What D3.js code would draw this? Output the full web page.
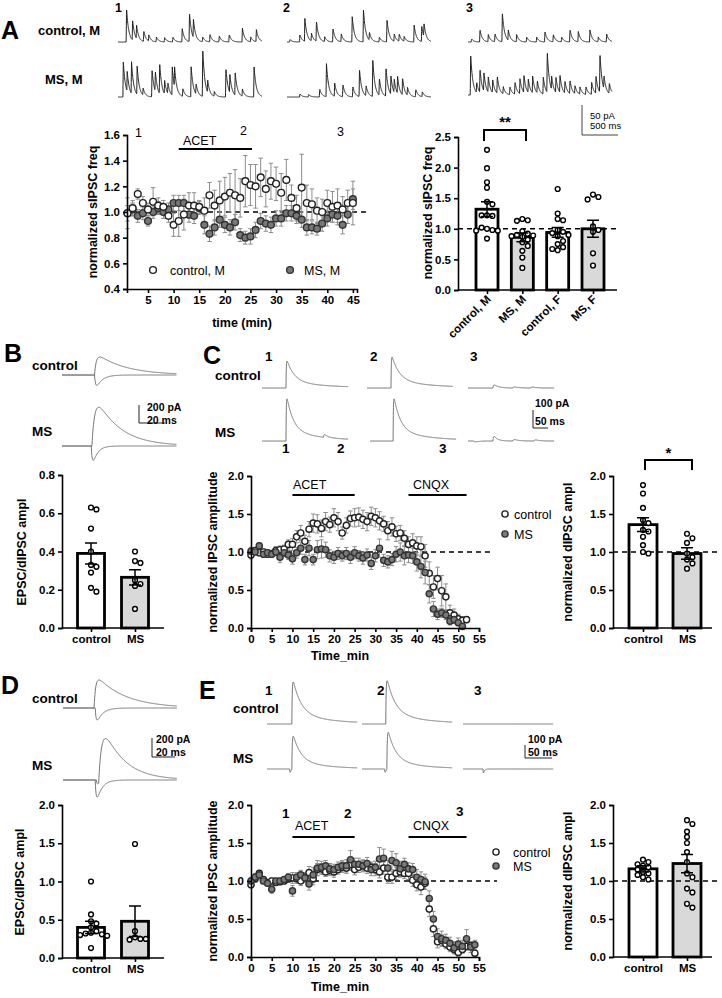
<!DOCTYPE html>
<html>
<head>
<meta charset="utf-8">
<script src="https://cdn.jsdelivr.net/npm/d3@7"></script>
<style>
  body { margin: 0; background: #fff; }
  svg text { font-family: "Liberation Sans", Arial, sans-serif; fill: #000; }
</style>
</head>
<body>
<svg id="fig" width="722" height="998"></svg>
<script>
// ---------------- data ----------------

// A: sIPSC traces, events as [time ms, amplitude pA]
var aCtrl1 = [[119,55],[203,33],[258,22],[359,17],[428,10],[534,8],[648,7],[763,8],[892,22],[993,47],[1048,30],[1177,8],[1278,12],[1407,10],[1545,12],[1728,23],[1844,8],[1922,20]];
var aMs1 = [[74,58],[128,33],[188,53],[266,47],[349,12],[473,45],[519,33],[579,50],[648,22],[694,17],[754,47],[786,33],[901,13],[1016,50],[1085,17],[1177,78],[1246,20],[1338,8],[1499,47],[1554,30],[1628,37],[1728,12],[1890,50]];
var aCtrl2 = [[41,4],[179,12],[248,38],[340,13],[409,33],[524,8],[639,22],[754,13],[906,42],[1062,53],[1145,13],[1283,8],[1389,37],[1490,12],[1559,12],[1628,8],[1766,28],[1872,25],[1903,22]];
var aMs2 = [[180,5],[300,4],[455,13],[548,55],[662,22],[777,20],[915,17],[1007,45],[1099,17],[1191,62],[1283,28],[1375,47],[1444,30],[1490,22],[1536,28],[1605,28],[1674,13],[1789,12],[1880,8]];
var aCtrl3 = [[51,5],[167,20],[282,12],[375,13],[477,48],[560,17],[676,12],[815,8],[954,8],[1069,17],[1185,12],[1301,8],[1417,20],[1532,17],[1694,20],[1810,8],[1926,13]];
var aMs3 = [[37,67],[121,17],[167,38],[222,30],[282,25],[343,22],[407,28],[490,12],[583,13],[653,20],[722,25],[778,28],[838,22],[898,28],[963,20],[1046,28],[1101,67],[1162,22],[1222,25],[1278,28],[1347,20],[1417,22],[1486,13],[1556,12],[1639,13],[1718,20],[1778,28],[1833,63],[1889,22],[1963,17]];

// A: time course, minutes 1..45
var ctrlM_freq = [0.99,1.03,1.14,1.07,1.02,1.08,1.05,1.04,0.97,0.90,
                  0.93,0.98,1.05,1.05,1.04,1.01,1.13,1.05,1.09,1.12,
                  1.15,1.13,1.11,1.24,1.21,1.20,1.27,1.18,1.24,1.22,
                  1.15,1.25,1.11,1.03,1.19,1.07,1.06,1.01,1.00,1.07,
                  1.04,1.05,1.02,1.07,1.07];
var ctrlM_sem = [0.12,0.06,0.04,0.05,0.05,0.11,0.06,0.05,0.05,0.09,
                 0.12,0.12,0.10,0.10,0.05,0.10,0.10,0.12,0.15,0.15,
                 0.15,0.20,0.15,0.20,0.16,0.17,0.15,0.14,0.14,0.13,
                 0.15,0.16,0.10,0.10,0.26,0.14,0.12,0.10,0.10,0.10,
                 0.12,0.13,0.10,0.10,0.17];
var msM_freq = [0.99,1.02,0.97,0.99,0.93,1.00,1.03,1.00,1.02,1.07,
                1.07,1.07,0.98,0.97,1.03,0.90,0.83,0.88,0.94,0.90,
                0.88,0.92,0.82,0.80,0.81,0.86,0.93,0.91,0.90,0.95,
                0.95,0.99,0.99,0.97,0.94,0.88,0.88,0.87,0.91,0.95,
                0.98,0.97,0.90,0.98,1.10];
var msM_sem = [0.06,0.05,0.05,0.05,0.04,0.05,0.05,0.05,0.05,0.06,
               0.06,0.06,0.06,0.06,0.05,0.07,0.06,0.06,0.06,0.06,
               0.06,0.06,0.05,0.05,0.06,0.06,0.06,0.06,0.06,0.06,
               0.06,0.06,0.06,0.06,0.06,0.06,0.05,0.05,0.06,0.06,
               0.06,0.07,0.07,0.07,0.08];

// A: bar chart
var aCats = ["control, M", "MS, M", "control, F", "MS, F"];
var aMeans = [1.32, 0.86, 0.94, 1.00];
var aSems = [0.12, 0.07, 0.08, 0.14];
var aPts = [
  [2.29,1.99,1.76,1.67,1.44,1.40,1.22,1.21,1.22,1.00,0.98,1.02,0.97,0.97,0.84],
  [1.16,1.14,1.13,0.96,0.92,0.90,0.89,0.88,0.87,0.82,0.78,0.72,0.64,0.53,0.36],
  [1.65,1.25,1.16,1.14,0.98,0.95,0.93,0.90,0.88,0.80,0.75,0.70,0.67,0.65],
  [1.56,1.52,1.48,1.04,0.98,0.95,0.60,0.40]
];

// B: evoked traces, components [onset ms, amplitude pA, rise ms, decay ms]
var bCtrlUp = [[25, 200, 1.5, 22]];
var bCtrlDown = [[25, -115, 1, 4.5]];
var bMsUp = [[23, 430, 2.5, 18]];
var bMsDown = [[22.5, -160, 1, 3.5]];
var bCats = ["control", "MS"];
var bMeans = [0.39, 0.265];
var bSems = [0.055, 0.04];
var bPts = [[0.63,0.62,0.52,0.40,0.33,0.32,0.29,0.21,0.19],[0.40,0.35,0.34,0.25,0.23,0.22,0.10]];

// C: evoked IPSC traces at 1, 2, 3
var cCtrlTr = [
  [[80,115,1,25],[80,35,1,130]],
  [[80,130,1,25],[80,42,1,130]],
  [[83,17,2,15],[150,6,2,15],[210,5,2,15]]
];
var cMsTr = [
  [[80,180,1,22],[80,55,1,120],[205,15,2,12]],
  [[77,180,1,22],[77,55,1,120]],
  [[20,-5,2,15],[83,25,2,12],[150,8,2,15],[220,6,2,15]]
];
// C: time course (minute = index)
var ctrlC_amp = [0.96,1.02,0.99,1.00,0.97,0.98,1.02,1.03,1.04,1.10,
                 1.10,1.20,1.25,1.14,1.30,1.38,1.37,1.31,1.40,1.36,
                 1.45,1.40,1.25,1.35,1.44,1.45,1.46,1.43,1.40,1.47,
                 1.45,1.41,1.37,1.28,1.33,1.24,1.25,1.18,1.10,1.12,
                 1.08,1.07,0.95,0.72,0.54,0.65,0.49,0.41,0.20,0.17,
                 0.12,0.10,0.11];
var ctrlC_sem = [0.05,0.04,0.04,0.04,0.04,0.04,0.05,0.05,0.05,0.06,
                 0.08,0.08,0.10,0.08,0.10,0.12,0.12,0.11,0.12,0.10,
                 0.12,0.12,0.08,0.10,0.10,0.12,0.12,0.12,0.12,0.12,
                 0.12,0.12,0.10,0.12,0.12,0.10,0.10,0.10,0.10,0.12,
                 0.12,0.13,0.15,0.15,0.15,0.15,0.20,0.17,0.10,0.08,
                 0.06,0.05,0.04];
var msC_amp = [1.01,1.00,1.08,0.97,0.99,0.97,1.00,0.93,0.99,0.96,
               0.91,0.99,1.05,0.90,1.05,0.90,1.03,1.04,1.03,0.95,
               0.93,0.98,0.95,0.98,0.93,0.99,0.95,0.92,0.96,0.85,
               0.95,1.05,0.89,0.87,0.90,0.97,1.00,0.95,0.96,0.95,
               0.87,0.81,0.73,0.45,0.25,0.18,0.20,0.17,0.09,0.11,
               0.07,0.02];
var msC_sem = [0.05,0.04,0.04,0.04,0.04,0.04,0.05,0.07,0.05,0.06,
               0.07,0.07,0.08,0.07,0.10,0.07,0.12,0.12,0.10,0.08,
               0.08,0.08,0.07,0.08,0.08,0.08,0.07,0.08,0.08,0.08,
               0.08,0.12,0.08,0.08,0.08,0.10,0.12,0.12,0.10,0.10,
               0.12,0.15,0.15,0.12,0.10,0.07,0.06,0.06,0.05,0.05,
               0.04,0.04];
var cBarMeans = [1.36, 0.98];
var cBarSems = [0.09, 0.075];
var cBarPts = [[1.88,1.77,1.58,1.42,1.38,1.29,1.27,1.20,1.09,1.00,0.98],[1.24,1.18,1.12,0.98,0.93,0.90,0.85,0.78]];

// D
var dCtrlUp = [[27, 295, 1.5, 25]];
var dCtrlDown = [[28, -126, 1, 5]];
var dMsUp = [[29, -40, 0.8, 2.5], [31, 440, 3, 18]];
var dMsDown = [[28, -180, 1, 4.5]];
var dMeans = [0.40, 0.48];
var dSems = [0.08, 0.20];
var dPts = [[1.00,0.57,0.48,0.45,0.40,0.35,0.33,0.32,0.31,0.30,0.29,0.13],[1.49,0.35,0.27,0.25,0.24,0.25]];

// E
var eCtrlTr = [
  [[46,250,0.8,15],[46,75,0.8,70]],
  [[44,255,0.8,15],[44,80,0.8,70]],
  []
];
var eMsTr = [
  [[42,-25,0.5,2],[46,195,0.8,14],[46,60,0.8,60]],
  [[42,-25,0.5,2],[46,220,0.8,14],[46,65,0.8,60]],
  [[37,-30,0.5,2]]
];
var ctrlE_amp = [0.95,1.03,1.10,1.02,0.98,1.00,0.98,0.99,1.00,1.03,
                 1.04,1.03,1.00,1.05,1.11,1.03,1.15,1.16,1.12,1.14,
                 1.12,1.15,1.18,1.17,1.22,1.15,1.18,1.20,1.17,1.18,
                 1.15,1.12,1.17,1.05,1.05,1.10,1.12,1.10,1.10,1.01,
                 0.95,0.92,0.97,0.63,0.37,0.20,0.22,0.17,0.13,0.10,
                 0.06,0.10,0.14,0.15,0.05];
var ctrlE_sem = [0.04,0.05,0.04,0.04,0.04,0.04,0.04,0.04,0.04,0.05,
                 0.07,0.06,0.06,0.06,0.08,0.08,0.08,0.07,0.06,0.07,
                 0.07,0.06,0.07,0.07,0.08,0.07,0.07,0.07,0.07,0.07,
                 0.08,0.08,0.08,0.08,0.08,0.08,0.07,0.07,0.08,0.08,
                 0.08,0.10,0.08,0.10,0.10,0.08,0.07,0.06,0.06,0.05,
                 0.05,0.05,0.05,0.05,0.04];
var msE_amp = [1.00,1.05,1.08,1.00,0.97,0.89,1.00,1.00,1.02,1.05,
               0.87,1.05,1.08,1.04,0.96,1.08,1.17,1.18,1.20,1.16,
               1.15,1.18,1.20,1.20,1.28,1.22,1.22,1.20,1.23,1.15,
               1.18,1.29,1.30,1.17,1.27,1.24,1.16,1.22,1.16,1.15,
               1.05,1.02,0.99,0.77,0.50,0.27,0.24,0.22,0.18,0.12,
               0.17,0.14,0.24,0.13,0.16];
var msE_sem = [0.05,0.05,0.05,0.04,0.04,0.05,0.04,0.04,0.04,0.05,
               0.07,0.06,0.06,0.06,0.08,0.10,0.10,0.08,0.07,0.07,
               0.07,0.07,0.07,0.08,0.12,0.08,0.08,0.08,0.08,0.08,
               0.08,0.15,0.12,0.10,0.12,0.12,0.10,0.08,0.08,0.08,
               0.10,0.10,0.10,0.10,0.10,0.10,0.10,0.08,0.08,0.08,
               0.08,0.08,0.12,0.07,0.06];
var eBarMeans = [1.16, 1.23];
var eBarSems = [0.04, 0.12];
var eBarPts = [[1.28,1.25,1.22,1.20,1.18,1.15,1.12,1.10,1.08,1.05,1.02],[1.80,1.75,1.65,1.58,1.50,1.38,1.25,1.10,1.05,0.90,0.85,0.70,0.65]];

var twoTicks = [0, 0.5, 1.0, 1.5, 2.0];

// ---------------- drawing ----------------
var svg = d3.select('#fig');
svg.append('rect').attr('width', 722).attr('height', 998).attr('fill', '#fff');

function txt(x, y, s, size, weight, anchor) {
  return svg.append('text').attr('x', x).attr('y', y).text(s)
    .attr('font-size', size).attr('font-weight', weight || 'bold')
    .attr('text-anchor', anchor || 'start');
}
function vlabel(x, y, s) {
  svg.append('text').attr('transform', 'translate(' + x + ',' + y + ') rotate(-90)')
    .attr('text-anchor', 'middle').attr('dy', '0.35em')
    .attr('font-size', 12.5).attr('font-weight', 'bold').text(s);
}
function styleAxis(g) {
  g.select('.domain').attr('stroke', '#000').attr('stroke-width', 1.6);
  g.selectAll('.tick line').attr('stroke', '#000').attr('stroke-width', 1.6);
  g.selectAll('.tick text').attr('font-size', 11.5).attr('font-weight', 'bold')
    .attr('font-family', 'Liberation Sans, Arial, sans-serif').attr('fill', '#000');
}

// spontaneous trace: events with instant rise and exponential decay
function spontTrace(events, x0, base, dur) {
  var pxMs = 0.072, pxPA = 0.6, pts = [];
  for (var t = 0; t <= dur; t += 2) {
    var v = 0;
    events.forEach(function(e) {
      var dt = t - e[0];
      if (dt >= 0) v += e[1] * Math.exp(-dt / 30);
      else if (dt > -6) v += e[1] * (1 + dt / 6);
    });
    pts.push([x0 + t * pxMs, base - v * pxPA]);
  }
  svg.append('path').attr('d', d3.line()(pts)).attr('fill', 'none')
    .attr('stroke', '#222').attr('stroke-width', 1);
}

// evoked trace: sum of double exponentials, amplitude = peak
function evokedTrace(comps, x0, base, dur, pxMs, pxPA, color) {
  var pts = [];
  for (var t = 0; t <= dur; t += 0.25) {
    var v = 0;
    comps.forEach(function(c) {
      var dt = t - c[0], r = c[2], d = c[3];
      if (dt > 0) {
        var norm = d / (r + d) * Math.pow(r / (r + d), r / d);
        v += c[1] * (1 - Math.exp(-dt / r)) * Math.exp(-dt / d) / norm;
      }
    });
    pts.push([x0 + t * pxMs, base - v * pxPA]);
  }
  svg.append('path').attr('d', d3.line()(pts)).attr('fill', 'none')
    .attr('stroke', color || '#666').attr('stroke-width', 0.9);
}

function scaleBar(x, yTop, yBot, xEnd, t1, t2, ty1, ty2, tx, size, weight, color) {
  svg.append('path').attr('d', 'M' + x + ',' + yTop + 'V' + yBot + 'H' + xEnd)
    .attr('fill', 'none').attr('stroke', color).attr('stroke-width', 1);
  txt(tx, ty1, t1, size, weight).attr('fill', color);
  txt(tx, ty2, t2, size, weight).attr('fill', color);
}

// time course with error bars
function timeCourse(o) {
  var g = svg.append('g');
  g.append('line').attr('x1', o.x.range()[0]).attr('x2', o.dashEnd)
    .attr('y1', o.y(1)).attr('y2', o.y(1))
    .attr('stroke', '#000').attr('stroke-width', 1.5).attr('stroke-dasharray', '5,4');
  o.series.forEach(function(s) {
    s.v.forEach(function(v, i) {
      var cx = o.x(s.t[i]), e = s.e[i];
      g.append('path').attr('d', 'M' + (cx - 2.2) + ',' + o.y(v + e) + 'H' + (cx + 2.2) +
        'M' + cx + ',' + o.y(v + e) + 'V' + o.y(v - e) +
        'M' + (cx - 2.2) + ',' + o.y(v - e) + 'H' + (cx + 2.2))
        .attr('stroke', '#8c8c8c').attr('stroke-width', 1).attr('fill', 'none');
    });
  });
  o.series.forEach(function(s) {
    g.selectAll(null).data(s.v).enter().append('circle')
      .attr('cx', function(d, i) { return o.x(s.t[i]); })
      .attr('cy', function(d) { return o.y(d); })
      .attr('r', o.r).attr('fill', s.fill).attr('stroke', s.stroke).attr('stroke-width', 1.4);
  });
  var ay = svg.append('g').attr('transform', 'translate(' + o.x.range()[0] + ',0)')
    .call(d3.axisLeft(o.y).tickValues(o.yTicks).tickFormat(d3.format('.1f')).tickSizeOuter(0).tickSize(4));
  styleAxis(ay);
  var ax = svg.append('g').attr('transform', 'translate(0,' + o.y.range()[0] + ')')
    .call(d3.axisBottom(o.x).tickValues(o.xTicks).tickFormat(d3.format('d')).tickSizeOuter(0).tickSize(4));
  styleAxis(ax);
}

// place points around the bar centre without overlap
function swarm(vals, y, r) {
  var placed = [], step = 2 * r + 0.6;
  return vals.map(function(v) {
    var py = y(v), offs = [0];
    for (var k = 1; k < 6; k++) offs.push(k * step, -k * step);
    var off = 0;
    for (var j = 0; j < offs.length; j++) {
      off = offs[j];
      var hit = placed.some(function(p) { return Math.hypot(p[0] - off, p[1] - py) < 2 * r + 0.4; });
      if (!hit) break;
    }
    placed.push([off, py]);
    return off;
  });
}

function barChart(o) {
  var g = svg.append('g');
  g.selectAll(null).data(o.cats).enter().append('rect')
    .attr('x', function(c) { return o.x(c) - o.barW / 2; })
    .attr('y', function(c, i) { return o.y(o.means[i]); })
    .attr('width', o.barW)
    .attr('height', function(c, i) { return o.y(0) - o.y(o.means[i]); })
    .attr('fill', function(c, i) { return o.fills[i]; })
    .attr('stroke', '#000').attr('stroke-width', 2.8);
  if (o.dash) {
    g.append('line').attr('x1', o.axisX0).attr('x2', o.dashEnd).attr('y1', o.y(1)).attr('y2', o.y(1))
      .attr('stroke', '#000').attr('stroke-width', 1.5).attr('stroke-dasharray', '5,4');
  }
  o.cats.forEach(function(c, i) {
    var offs = swarm(o.pts[i], o.y, 2.4);
    g.selectAll(null).data(o.pts[i]).enter().append('circle')
      .attr('cx', function(d, k) { return o.x(c) + offs[k]; })
      .attr('cy', function(d) { return o.y(d); })
      .attr('r', 2.4).attr('fill', '#fff').attr('stroke', '#000').attr('stroke-width', 1.4);
    var cx = o.x(c), hi = o.y(o.means[i] + o.sems[i]), lo = o.y(o.means[i] - o.sems[i]);
    g.append('path').attr('d', 'M' + (cx - 6) + ',' + hi + 'H' + (cx + 6) + 'M' + cx + ',' + hi + 'V' + lo +
      'M' + (cx - 6) + ',' + lo + 'H' + (cx + 6))
      .attr('stroke', '#000').attr('stroke-width', 1.5).attr('fill', 'none');
  });
  var ay = svg.append('g').attr('transform', 'translate(' + o.axisX0 + ',0)')
    .call(d3.axisLeft(o.y).tickValues(o.yTicks).tickFormat(d3.format('.1f')).tickSizeOuter(0).tickSize(4));
  styleAxis(ay);
  var ax = svg.append('g').attr('transform', 'translate(0,' + o.y(0) + ')')
    .call(d3.axisBottom(o.x).tickSizeOuter(0).tickSize(4));
  ax.select('.domain').remove();
  ax.append('line').attr('x1', o.axisX0).attr('x2', o.axisX1).attr('stroke', '#000').attr('stroke-width', 1.6);
  styleAxis(ax);
  if (o.rotate) {
    ax.selectAll('.tick text').attr('text-anchor', 'end').attr('dy', null)
      .attr('transform', 'translate(4,10) rotate(-45)').attr('y', 0).attr('x', 0);
  }
}

function bracket(x1, x2, yTop, yL, yR, star, starY) {
  svg.append('path').attr('d', 'M' + x1 + ',' + yL + 'V' + yTop + 'H' + x2 + 'V' + yR)
    .attr('fill', 'none').attr('stroke', '#000').attr('stroke-width', 2);
  txt((x1 + x2) / 2, starY, star, 15, 'bold', 'middle');
}

// ---------- panel A ----------
txt(1, 39, 'A', 25);
txt(38, 35, 'control, M', 13);
txt(45, 84, 'MS, M', 13);
txt(115, 12, '1', 12.5); txt(283, 12, '2', 12.5); txt(466, 12, '3', 12.5);
spontTrace(aCtrl1, 118, 42, 2000);
spontTrace(aMs1, 118, 97, 2000);
spontTrace(aCtrl2, 287, 42, 2000);
spontTrace(aMs2, 287, 97, 2000);
spontTrace(aCtrl3, 468, 42, 2000);
spontTrace(aMs3, 468, 95, 2000);
scaleBar(582, 105, 135, 618, '50 pA', '500 ms', 119, 129, 590, 9.5, 'normal', '#444');

var minutesA = d3.range(1, 46);
var xA = d3.scaleLinear().domain([0.9, 45.8]).range([127, 357]);
var yA = d3.scaleLinear().domain([0.4, 1.6]).range([289, 135]);
timeCourse({x: xA, y: yA, r: 3.4, dashEnd: 366,
  xTicks: [5, 10, 15, 20, 25, 30, 35, 40, 45], yTicks: [0.4, 0.6, 0.8, 1.0, 1.2, 1.4, 1.6],
  series: [
    {t: minutesA, v: msM_freq, e: msM_sem, fill: '#777', stroke: '#333'},
    {t: minutesA, v: ctrlM_freq, e: ctrlM_sem, fill: '#fff', stroke: '#222'}
  ]});
svg.append('line').attr('x1', xA(11)).attr('x2', xA(25.3)).attr('y1', 149).attr('y2', 149)
  .attr('stroke', '#000').attr('stroke-width', 2.2);
txt(183, 145, 'ACET', 12.5, 'normal');
txt(135, 137, '1', 12.5, 'normal'); txt(240, 135, '2', 12.5, 'normal'); txt(337, 136, '3', 12.5, 'normal');
svg.append('circle').attr('cx', 153).attr('cy', 270).attr('r', 3.4).attr('fill', '#fff').attr('stroke', '#222').attr('stroke-width', 1.4);
txt(170, 274.5, 'control, M', 12.5, 'normal');
svg.append('circle').attr('cx', 290).attr('cy', 270).attr('r', 3.4).attr('fill', '#777').attr('stroke', '#333').attr('stroke-width', 1.4);
txt(304, 274.5, 'MS, M', 12.5, 'normal');
vlabel(93, 212, 'normalized sIPSC freq');
txt(242, 327, 'time (min)', 12.5, 'bold', 'middle');

var yAB = d3.scaleLinear().domain([0, 2.5]).range([290, 137]);
var xAB = d3.scalePoint().domain(aCats).range([487, 593]);
barChart({cats: aCats, means: aMeans, sems: aSems, pts: aPts, x: xAB, y: yAB,
  fills: ['#fff', '#d9d9d9', '#fff', '#d9d9d9'], barW: 22, axisX0: 458, axisX1: 617,
  yTicks: [0, 0.5, 1.0, 1.5, 2.0, 2.5], dash: true, dashEnd: 620, rotate: true});
vlabel(428, 213, 'normalized sIPSC freq');
bracket(484, 526, 130, 141, 141, '**', 127);

// ---------- panel B ----------
txt(4, 362, 'B', 25);
txt(32, 370, 'control', 13.5);
txt(32, 436, 'MS', 13.5);
evokedTrace(bCtrlUp, 62, 375, 88, 1.3, 0.09);
evokedTrace(bCtrlDown, 62, 375, 88, 1.3, 0.09);
evokedTrace(bMsUp, 62, 446, 88, 1.3, 0.09);
evokedTrace(bMsDown, 62, 446, 88, 1.3, 0.09);
scaleBar(139, 405, 423, 165, '200 pA', '20 ms', 411, 424, 147, 10.5, 'bold', '#222');

var yB = d3.scaleLinear().domain([0, 0.8]).range([628, 475]);
var xB = d3.scalePoint().domain(bCats).range([91, 135]);
barChart({cats: bCats, means: bMeans, sems: bSems, pts: bPts, x: xB, y: yB,
  fills: ['#fff', '#d9d9d9'], barW: 27, axisX0: 62, axisX1: 164,
  yTicks: [0, 0.2, 0.4, 0.6, 0.8], dash: false});
vlabel(22, 552, 'EPSC/dIPSC ampl');

// ---------- panel C ----------
txt(203, 364, 'C', 25);
txt(215, 380, 'control', 13.5);
txt(215, 437, 'MS', 13.5);
txt(265, 361, '1', 13.5); txt(370, 361, '2', 13.5); txt(470, 361, '3', 13.5);
var cX0 = [262, 367, 468], cMsX0 = [262, 370, 468];
cCtrlTr.forEach(function(tr, i) { evokedTrace(tr, cX0[i], 388, 287, 0.3, 0.18); });
cMsTr.forEach(function(tr, i) { evokedTrace(tr, cMsX0[i], 441, 287, 0.3, 0.18); });
scaleBar(533, 410, 428, 548, '100 pA', '50 ms', 407, 425, 535, 10.5, 'bold', '#222');

var xC = d3.scaleLinear().domain([0, 55]).range([251, 479]);
var yC = d3.scaleLinear().domain([0, 2]).range([628, 476]);
timeCourse({x: xC, y: yC, r: 3.1, dashEnd: 490,
  xTicks: d3.range(0, 56, 5), yTicks: twoTicks,
  series: [
    {t: d3.range(ctrlC_amp.length), v: ctrlC_amp, e: ctrlC_sem, fill: '#fff', stroke: '#222'},
    {t: d3.range(msC_amp.length), v: msC_amp, e: msC_sem, fill: '#7a7a7a', stroke: '#333'}
  ]});
svg.append('line').attr('x1', xC(10)).attr('x2', xC(25)).attr('y1', 495).attr('y2', 495).attr('stroke', '#000').attr('stroke-width', 2.2);
svg.append('line').attr('x1', xC(38)).attr('x2', xC(52)).attr('y1', 495).attr('y2', 495).attr('stroke', '#000').attr('stroke-width', 2.2);
txt(293, 489, 'ACET', 12.5, 'normal'); txt(413, 489, 'CNQX', 12.5, 'normal');
txt(282, 453, '1', 13.5); txt(337, 453, '2', 13.5); txt(439, 453, '3', 13.5);
svg.append('circle').attr('cx', 505).attr('cy', 514).attr('r', 3.1).attr('fill', '#fff').attr('stroke', '#222').attr('stroke-width', 1.4);
txt(514, 518.5, 'control', 12.5, 'normal');
svg.append('circle').attr('cx', 505).attr('cy', 534).attr('r', 3.1).attr('fill', '#7a7a7a').attr('stroke', '#333').attr('stroke-width', 1.4);
txt(514, 538.5, 'MS', 12.5, 'normal');
vlabel(213, 552, 'normalized IPSC amplitude');
txt(340, 660, 'Time_min', 12.5, 'bold', 'middle');

var yCB = d3.scaleLinear().domain([0, 2]).range([628, 476]);
var xCB = d3.scalePoint().domain(bCats).range([643, 687]);
barChart({cats: bCats, means: cBarMeans, sems: cBarSems, pts: cBarPts, x: xCB, y: yCB,
  fills: ['#fff', '#d9d9d9'], barW: 28, axisX0: 613, axisX1: 712,
  yTicks: twoTicks, dash: true, dashEnd: 720});
vlabel(568, 552, 'normalized dIPSC ampl');
bracket(645, 692, 460, 470, 470, '*', 458);

// ---------- panel D ----------
txt(1, 694, 'D', 25);
txt(32, 703, 'control', 13.5);
txt(32, 770, 'MS', 13.5);
evokedTrace(dCtrlUp, 63, 708, 99, 1.15, 0.095);
evokedTrace(dCtrlDown, 63, 708, 99, 1.15, 0.095);
evokedTrace(dMsUp, 63, 780, 99, 1.15, 0.095);
evokedTrace(dMsDown, 63, 780, 99, 1.15, 0.095);
scaleBar(152, 738, 757, 175, '200 pA', '20 ms', 743, 756, 156, 10.5, 'bold', '#222');

var yD = d3.scaleLinear().domain([0, 2]).range([958, 805]);
barChart({cats: bCats, means: dMeans, sems: dSems, pts: dPts, x: xB, y: yD,
  fills: ['#fff', '#d9d9d9'], barW: 27, axisX0: 62, axisX1: 164,
  yTicks: twoTicks, dash: false});
vlabel(20, 882, 'EPSC/dIPSC ampl');

// ---------- panel E ----------
txt(199, 699, 'E', 25);
txt(233, 713, 'control', 13.5);
txt(233, 763, 'MS', 13.5);
txt(265, 695, '1', 13.5); txt(377, 695, '2', 13.5); txt(474, 695, '3', 13.5);
var eX0 = [267, 362, 463];
eCtrlTr.forEach(function(tr, i) { evokedTrace(tr, eX0[i], 724, 167, 0.54, 0.13); });
eMsTr.forEach(function(tr, i) { evokedTrace(tr, eX0[i], 769, 167, 0.54, 0.13); });
scaleBar(525, 745, 758, 552, '100 pA', '50 ms', 743, 756, 528, 10.5, 'bold', '#222');

var xE = d3.scaleLinear().domain([0, 55]).range([251, 479]);
var yE = d3.scaleLinear().domain([0, 2]).range([957, 805]);
timeCourse({x: xE, y: yE, r: 3.1, dashEnd: 497,
  xTicks: d3.range(0, 56, 5), yTicks: twoTicks,
  series: [
    {t: d3.range(ctrlE_amp.length), v: ctrlE_amp, e: ctrlE_sem, fill: '#fff', stroke: '#222'},
    {t: d3.range(msE_amp.length), v: msE_amp, e: msE_sem, fill: '#7a7a7a', stroke: '#333'}
  ]});
svg.append('line').attr('x1', xE(10)).attr('x2', xE(25)).attr('y1', 837).attr('y2', 837).attr('stroke', '#000').attr('stroke-width', 2.2);
svg.append('line').attr('x1', xE(38)).attr('x2', xE(52)).attr('y1', 837).attr('y2', 837).attr('stroke', '#000').attr('stroke-width', 2.2);
txt(295, 830, 'ACET', 12.5, 'normal'); txt(413, 830, 'CNQX', 12.5, 'normal');
txt(282, 818, '1', 13.5); txt(344, 818, '2', 13.5); txt(456, 816, '3', 13.5);
svg.append('circle').attr('cx', 496).attr('cy', 852).attr('r', 3.1).attr('fill', '#fff').attr('stroke', '#222').attr('stroke-width', 1.4);
txt(513, 856.5, 'control', 12.5, 'normal');
svg.append('circle').attr('cx', 496).attr('cy', 866).attr('r', 3.1).attr('fill', '#7a7a7a').attr('stroke', '#333').attr('stroke-width', 1.4);
txt(513, 870.5, 'MS', 12.5, 'normal');
vlabel(213, 881, 'normalized IPSC amplitude');
txt(340, 991, 'Time_min', 12.5, 'bold', 'middle');

var yEB = d3.scaleLinear().domain([0, 2]).range([957, 805]);
barChart({cats: bCats, means: eBarMeans, sems: eBarSems, pts: eBarPts, x: xCB, y: yEB,
  fills: ['#fff', '#d9d9d9'], barW: 28, axisX0: 613, axisX1: 712,
  yTicks: twoTicks, dash: true, dashEnd: 720});
vlabel(568, 881, 'normalized dIPSC ampl');
</script>
</body>
</html>
